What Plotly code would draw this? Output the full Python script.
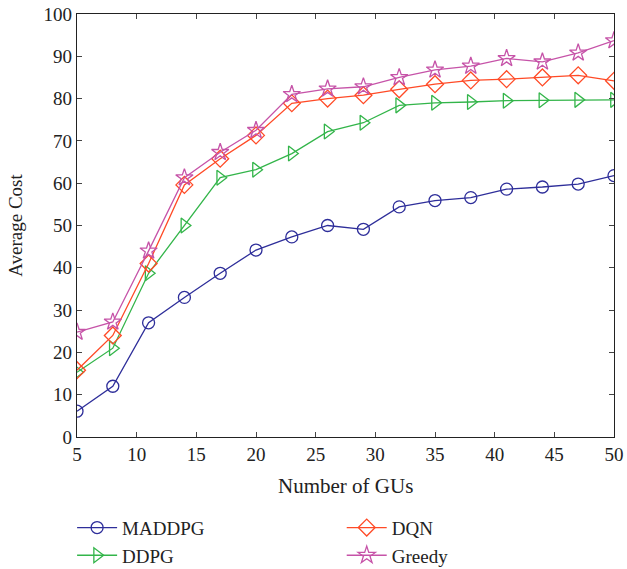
import plotly.graph_objects as go

gus = [5, 8, 11, 14, 17, 20, 23, 26, 29, 32, 35, 38, 41, 44, 47, 50]
maddpg = [6.1, 12.0, 27.0, 33.0, 38.7, 44.2, 47.3, 50.0, 49.1, 54.4, 55.9, 56.6, 58.6, 59.1, 59.8, 61.8]
ddpg = [15.3, 21.0, 38.7, 50.0, 61.3, 63.2, 67.0, 72.2, 74.3, 78.4, 79.0, 79.2, 79.5, 79.6, 79.7, 79.7]
dqn = [15.8, 24.0, 41.0, 59.6, 65.8, 71.3, 78.9, 80.0, 80.8, 82.2, 83.4, 84.3, 84.6, 85.0, 85.5, 84.2]
greedy = [24.8, 27.2, 44.0, 61.3, 67.3, 72.5, 81.0, 82.3, 82.8, 85.0, 86.8, 87.7, 89.5, 88.7, 90.8, 93.7]

series = [
    ("MADDPG", maddpg, "#2e2e9a", "circle-open", 12, "legend"),
    ("DDPG", ddpg, "#33b54a", "triangle-right-open", 13, "legend"),
    ("DQN", dqn, "#ff4a26", "diamond-open", 13, "legend2"),
    ("Greedy", greedy, "#c653a8", "star-open", 13, "legend2"),
]

fig = go.Figure()
for name, vals, color, sym, msize, lg in series:
    fig.add_trace(go.Scatter(
        x=gus, y=vals, name=name, mode="lines+markers", legend=lg,
        line=dict(color=color, width=1.3),
        marker=dict(symbol=sym, size=msize, color=color, line=dict(width=1.3, color=color)),
    ))

font = "Liberation Serif, Times New Roman, serif"
legend_common = dict(orientation="v", xref="container", yref="container",
                     xanchor="left", yanchor="top", y=0.106,
                     font=dict(size=19), itemwidth=40, tracegroupgap=0,
                     bgcolor="rgba(0,0,0,0)")
fig.update_layout(
    width=627, height=569,
    margin=dict(l=77, r=13, t=14, b=132, autoexpand=False),
    paper_bgcolor="white", plot_bgcolor="white",
    font=dict(family=font, size=19, color="#222222"),
    showlegend=True,
    legend=dict(x=0.115, **legend_common),
    legend2=dict(x=0.545, **legend_common),
    annotations=[
        dict(text="Number of GUs", xref="paper", yref="paper", x=0.5, y=-0.115,
             xanchor="center", yanchor="middle", showarrow=False, font=dict(size=21)),
        dict(text="Average Cost", xref="paper", yref="paper", x=-0.115, y=0.5,
             textangle=-90, xanchor="center", yanchor="middle", showarrow=False,
             font=dict(size=19)),
    ],
)
fig.update_xaxes(range=[5, 50], tickvals=list(range(5, 51, 5)), ticks="inside", ticklen=5,
                 showline=True, linecolor="#222222", linewidth=1.2, mirror="ticks",
                 showgrid=False, zeroline=False)
fig.update_yaxes(range=[0, 100], tickvals=list(range(0, 101, 10)), ticks="inside", ticklen=5,
                 showline=True, linecolor="#222222", linewidth=1.2, mirror="ticks",
                 showgrid=False, zeroline=False)
fig.write_html("out.html")
